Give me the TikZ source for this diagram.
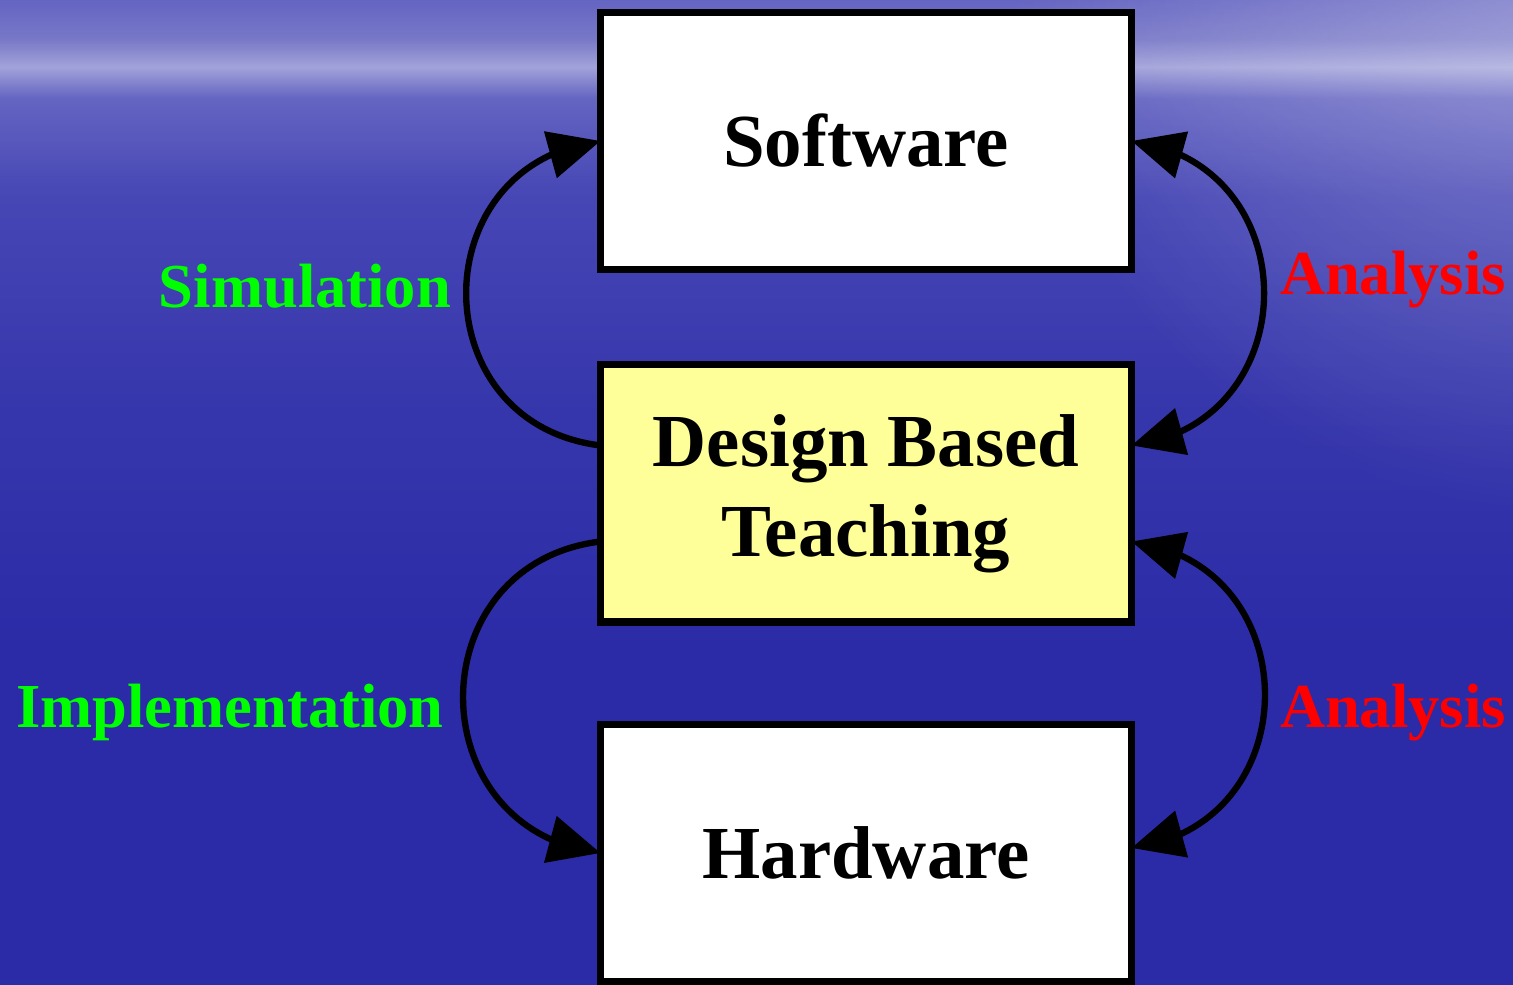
\documentclass[tikz,border=0pt]{standalone}
\usepackage{fontspec}
\setmainfont{Liberation Serif}
\usetikzlibrary{arrows.meta,bending,fadings}

\definecolor{paleyellow}{HTML}{FFFF99}
\definecolor{simgreen}{HTML}{00FF00}
\definecolor{anared}{HTML}{FF0000}
\definecolor{seadeep}{HTML}{2B2BA7}
\definecolor{seamid}{HTML}{3636AC}
\definecolor{sealow}{HTML}{4646B5}
\definecolor{seahaze}{HTML}{6464C2}
\definecolor{seaband}{HTML}{A2A2DA}
\definecolor{seasky}{HTML}{7878C8}
\pgfdeclareverticalshading{sea}{100bp}{color(0bp)=(seadeep); color(25bp)=(seadeep); color(42bp)=(seadeep); color(54bp)=(seamid); color(65bp)=(sealow); color(70bp)=(seahaze); color(71.6bp)=(seaband); color(73bp)=(seasky); color(75bp)=(seahaze); color(100bp)=(seahaze)}
\tikzfading[name=glow, inner color=transparent!0, outer color=transparent!100]

\begin{document}
\begin{tikzpicture}[box/.style={draw=black, line width=2pt, minimum width=5.31cm, minimum height=2.57cm, outer sep=0pt, align=center, font=\fontsize{21.3}{25.6}\selectfont\bfseries},
  tag/.style={anchor=base, font=\fontsize{17.8}{20}\selectfont\bfseries},
  link/.style={line width=1.8pt, -{Triangle[length=5.2mm,width=4.7mm,flex]}},
  both/.style={line width=1.8pt, {Triangle[length=5.2mm,width=4.7mm,flex]}-{Triangle[length=5.2mm,width=4.7mm,flex]}}]
\useasboundingbox (0,0) rectangle (15.13,9.85);
\shade[shading=sea] (0,0) rectangle (15.13,9.85);
\fill[white, fill opacity=0.3, path fading=glow] (15.6,10.2) circle (5.5);

\node[box, fill=white] (soft) at (8.66,8.44) {Software};
\node[box, fill=paleyellow] (dbt) at (8.66,4.915) {Design Based\\Teaching};
\node[box, fill=white] (hard) at (8.66,1.32) {Hardware};

\draw[link] ([yshift=0.48cm]dbt.west) to[out=173, in=187, looseness=1.52] (soft.west);
\draw[link] ([yshift=-0.48cm]dbt.west) to[out=187, in=173, looseness=1.52] (hard.west);
\draw[both] (soft.east) to[out=-7, in=7, looseness=1.5] ([yshift=0.48cm]dbt.east);
\draw[both] ([yshift=-0.48cm]dbt.east) to[out=-7, in=7, looseness=1.5] ([yshift=0.05cm]hard.east);

\node[tag, text=simgreen] (sim) at (3.05,6.77) {Simulation};
\node[tag, text=simgreen] (impl) at (2.30,2.57) {Implementation};
\node[tag, text=anared] (anaup) at (13.93,6.90) {Analysis};
\node[tag, text=anared] (anadown) at (13.93,2.57) {Analysis};
\end{tikzpicture}
\end{document}
